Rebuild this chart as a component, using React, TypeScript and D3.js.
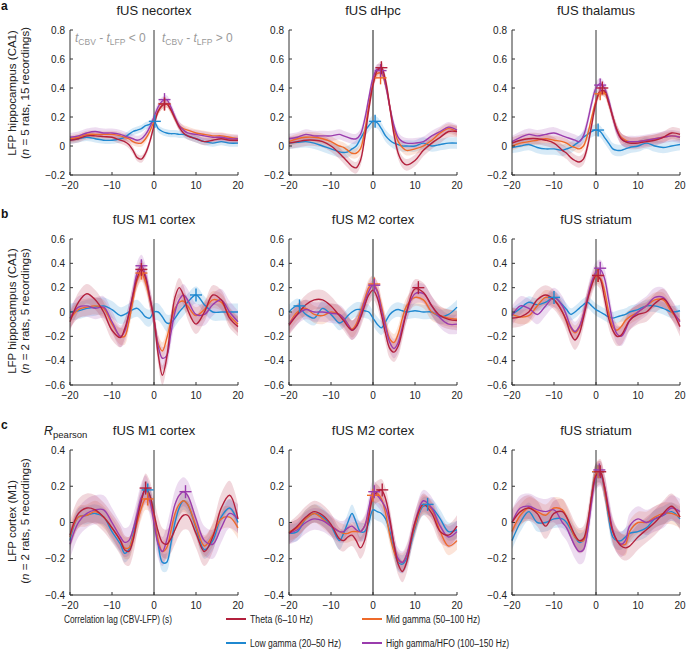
import React from "react"
import * as d3 from "d3"

// lag grid (s) shared by every trace
const lags = [-20, -18, -16, -14, -12, -10, -8, -7, -6, -5, -4, -3, -2, -1, 0, 1, 2, 3, 4, 5, 6, 7, 8, 10, 12, 14, 16, 18, 20]

const bandNames = ["Theta (6–10 Hz)", "Low gamma (20–50 Hz)", "Mid gamma (50–100 Hz)", "High gamma/HFO (100–150 Hz)"]
const bandColors = ["#b3203c", "#1f88d0", "#ee6a2a", "#9a3cad"]

// row a: LFP hippocampus vs fUS regions
const neoTheta = [0.04, 0.05, 0.07, 0.07, 0.065, 0.06, 0.04, 0.03, 0.01, -0.03, -0.08, -0.09, -0.05, 0.03, 0.14, 0.24, 0.28, 0.29, 0.25, 0.19, 0.13, 0.09, 0.07, 0.05, 0.03, 0.04, 0.05, 0.04, 0.04]
const neoLow = [0.04, 0.05, 0.06, 0.05, 0.04, 0.04, 0.05, 0.06, 0.08, 0.1, 0.11, 0.12, 0.14, 0.15, 0.17, 0.12, 0.1, 0.09, 0.085, 0.085, 0.08, 0.08, 0.07, 0.05, 0.03, 0.02, 0.03, 0.02, 0.02]
const neoMid = [0.05, 0.06, 0.08, 0.08, 0.08, 0.08, 0.07, 0.06, 0.05, 0.03, 0.02, 0.02, 0.05, 0.1, 0.17, 0.24, 0.28, 0.29, 0.25, 0.19, 0.14, 0.12, 0.11, 0.09, 0.08, 0.07, 0.07, 0.06, 0.05]
const neoHigh = [0.06, 0.07, 0.09, 0.1, 0.09, 0.09, 0.08, 0.07, 0.06, 0.05, 0.04, 0.05, 0.08, 0.13, 0.2, 0.27, 0.31, 0.32, 0.27, 0.2, 0.14, 0.11, 0.09, 0.08, 0.07, 0.06, 0.06, 0.05, 0.05]

const hpcTheta = [0.02, 0.03, 0.04, 0.04, 0.03, 0.0, -0.05, -0.08, -0.11, -0.14, -0.15, -0.1, 0.05, 0.25, 0.42, 0.52, 0.54, 0.45, 0.27, 0.08, -0.05, -0.11, -0.13, -0.1, -0.03, 0.02, 0.06, 0.1, 0.1]
const hpcLow = [0.02, 0.025, 0.03, 0.02, 0.0, -0.02, -0.04, -0.045, -0.04, -0.02, 0.0, 0.05, 0.1, 0.14, 0.17, 0.16, 0.12, 0.07, 0.04, 0.02, 0.01, 0.0, 0.0, 0.0, 0.02, 0.0, 0.01, 0.02, 0.02]
const hpcMid = [0.03, 0.05, 0.06, 0.06, 0.05, 0.03, 0.0, -0.01, -0.03, -0.05, -0.05, -0.02, 0.1, 0.28, 0.43, 0.5, 0.5, 0.42, 0.27, 0.12, 0.03, -0.01, -0.03, -0.02, 0.0, 0.04, 0.09, 0.12, 0.1]
const hpcHigh = [0.05, 0.06, 0.08, 0.07, 0.07, 0.07, 0.08, 0.07, 0.06, 0.05, 0.05, 0.08, 0.18, 0.33, 0.47, 0.53, 0.52, 0.42, 0.27, 0.14, 0.06, 0.03, 0.02, 0.02, 0.03, 0.07, 0.1, 0.13, 0.11]

const thalTheta = [0.02, 0.04, 0.05, 0.05, 0.04, 0.02, -0.03, -0.05, -0.08, -0.1, -0.11, -0.09, 0.0, 0.15, 0.3, 0.38, 0.38, 0.3, 0.2, 0.11, 0.05, 0.03, 0.02, 0.02, 0.03, 0.04, 0.06, 0.09, 0.08]
const thalLow = [-0.01, 0.0, 0.01, -0.01, -0.02, -0.02, -0.03, -0.02, -0.01, 0.01, 0.03, 0.06, 0.08, 0.1, 0.11, 0.1, 0.06, 0.02, -0.02, -0.03, -0.03, -0.02, -0.01, 0.0, 0.02, 0.0, -0.01, 0.0, 0.01]
const thalMid = [0.0, 0.02, 0.03, 0.04, 0.05, 0.04, 0.03, 0.02, 0.0, -0.01, -0.02, 0.0, 0.08, 0.2, 0.31, 0.37, 0.37, 0.3, 0.2, 0.11, 0.06, 0.04, 0.03, 0.03, 0.04, 0.05, 0.06, 0.07, 0.06]
const thalHigh = [0.03, 0.06, 0.08, 0.07, 0.08, 0.09, 0.07, 0.06, 0.05, 0.04, 0.03, 0.07, 0.17, 0.3, 0.4, 0.43, 0.4, 0.32, 0.2, 0.1, 0.05, 0.03, 0.03, 0.03, 0.04, 0.05, 0.06, 0.07, 0.06]

// row b: LFP hippocampus vs motor / striatum
const m1Theta = [-0.08, 0.08, 0.15, 0.1, 0.0, -0.15, -0.21, -0.14, -0.02, 0.14, 0.28, 0.35, 0.28, 0.12, -0.06, -0.35, -0.52, -0.38, -0.1, 0.12, 0.2, 0.14, 0.02, -0.1, 0.0, 0.14, 0.1, -0.05, -0.12]
const m1Low = [0.0, 0.01, 0.03, 0.04, 0.05, 0.02, -0.03, -0.02, 0.0, 0.02, 0.03, 0.0, -0.04, -0.05, 0.0, 0.0, -0.04, -0.09, -0.09, -0.05, 0.0, 0.04, 0.08, 0.14, 0.06, 0.0, 0.0, 0.0, 0.0]
const m1Mid = [-0.06, 0.02, 0.04, 0.05, 0.03, -0.1, -0.2, -0.2, -0.08, 0.1, 0.26, 0.32, 0.24, 0.1, -0.06, -0.26, -0.32, -0.22, -0.08, 0.03, 0.08, 0.09, 0.05, -0.03, 0.02, 0.1, 0.08, -0.03, -0.1]
const m1High = [-0.05, 0.04, 0.05, 0.03, 0.04, -0.08, -0.2, -0.16, -0.02, 0.15, 0.32, 0.38, 0.3, 0.12, -0.06, -0.28, -0.38, -0.36, -0.18, 0.0, 0.1, 0.14, 0.1, -0.02, -0.02, 0.06, 0.1, 0.0, -0.08]

const m2Theta = [-0.11, -0.02, 0.06, 0.1, 0.1, 0.05, -0.03, -0.07, -0.12, -0.15, -0.12, -0.05, 0.05, 0.14, 0.18, 0.12, -0.02, -0.18, -0.3, -0.33, -0.28, -0.15, 0.0, 0.19, 0.16, 0.05, -0.03, -0.06, -0.07]
const m2Low = [0.0, 0.05, -0.02, -0.05, 0.03, -0.02, -0.09, -0.07, -0.03, 0.0, 0.02, 0.02, 0.01, 0.0, -0.05, -0.1, -0.13, -0.08, -0.02, 0.01, 0.02, 0.01, 0.0, 0.01, 0.0, 0.0, -0.04, -0.02, 0.04]
const m2Mid = [-0.1, 0.0, 0.03, -0.02, -0.03, 0.0, -0.02, -0.05, -0.1, -0.14, -0.1, 0.0, 0.1, 0.2, 0.23, 0.18, 0.05, -0.1, -0.22, -0.25, -0.18, -0.05, 0.05, 0.12, 0.1, 0.0, -0.03, -0.05, -0.06]
const m2High = [-0.1, -0.02, 0.02, 0.0, 0.0, -0.01, -0.02, -0.05, -0.1, -0.15, -0.12, -0.03, 0.08, 0.17, 0.22, 0.17, 0.02, -0.12, -0.25, -0.3, -0.25, -0.12, 0.0, 0.15, 0.15, 0.05, -0.05, -0.1, -0.1]

const strTheta = [-0.05, -0.04, 0.0, 0.1, 0.14, 0.1, 0.0, -0.08, -0.18, -0.23, -0.18, -0.05, 0.1, 0.22, 0.3, 0.27, 0.12, -0.05, -0.15, -0.2, -0.19, -0.13, -0.07, -0.02, 0.0, 0.07, 0.11, 0.02, -0.12]
const strLow = [-0.02, 0.03, 0.08, 0.06, 0.08, 0.12, 0.06, 0.02, -0.02, 0.0, 0.03, 0.06, 0.08, 0.05, 0.02, 0.0, -0.02, -0.04, -0.05, -0.04, -0.03, -0.02, 0.0, 0.02, 0.05, 0.05, 0.03, 0.0, 0.01]
const strMid = [-0.02, -0.04, -0.03, 0.05, 0.12, 0.1, 0.0, -0.07, -0.13, -0.17, -0.13, -0.02, 0.12, 0.23, 0.29, 0.28, 0.18, 0.0, -0.12, -0.15, -0.12, -0.07, -0.04, 0.0, 0.05, 0.1, 0.1, 0.0, -0.07]
const strHigh = [-0.03, 0.05, 0.03, -0.02, 0.05, 0.12, 0.05, -0.03, -0.12, -0.16, -0.12, -0.02, 0.12, 0.25, 0.33, 0.35, 0.28, 0.1, -0.08, -0.18, -0.2, -0.15, -0.07, 0.0, 0.05, 0.12, 0.12, 0.02, -0.08]

// row c: LFP cortex (M1)
const cm1Theta = [-0.07, 0.05, 0.08, 0.07, 0.03, -0.03, -0.1, -0.15, -0.16, -0.1, 0.02, 0.12, 0.19, 0.15, 0.05, -0.05, -0.11, -0.12, -0.09, -0.04, 0.01, 0.04, 0.04, -0.06, -0.16, -0.08, 0.08, 0.15, 0.02]
const cm1Low = [-0.1, 0.03, 0.04, 0.05, 0.03, -0.05, -0.12, -0.17, -0.15, -0.07, 0.03, 0.13, 0.18, 0.15, 0.03, -0.12, -0.22, -0.22, -0.12, 0.0, 0.08, 0.12, 0.1, -0.03, -0.15, -0.1, 0.03, 0.08, 0.0]
const cm1Mid = [-0.08, 0.03, 0.04, 0.06, 0.03, -0.03, -0.1, -0.14, -0.14, -0.08, 0.0, 0.08, 0.13, 0.12, 0.02, -0.1, -0.16, -0.14, -0.05, 0.05, 0.1, 0.12, 0.1, -0.02, -0.13, -0.07, 0.02, 0.03, -0.03]
const cm1High = [-0.12, 0.0, 0.05, 0.07, 0.07, 0.0, -0.08, -0.11, -0.1, -0.04, 0.05, 0.14, 0.18, 0.12, 0.0, -0.12, -0.16, -0.1, 0.0, 0.1, 0.15, 0.17, 0.15, 0.02, -0.1, -0.12, -0.03, 0.05, 0.02]

const cm2Theta = [-0.06, -0.02, 0.03, 0.06, 0.04, -0.01, -0.09, -0.1, -0.08, -0.07, -0.1, -0.14, -0.1, 0.03, 0.14, 0.17, 0.18, 0.13, 0.02, -0.12, -0.23, -0.27, -0.22, 0.0, 0.1, 0.05, -0.05, -0.07, -0.02]
const cm2Low = [-0.06, -0.05, 0.02, 0.05, 0.03, -0.02, -0.1, -0.06, 0.0, 0.05, 0.0, -0.05, -0.05, 0.0, 0.07, 0.06, 0.05, 0.02, -0.05, -0.15, -0.22, -0.23, -0.2, -0.03, 0.09, 0.08, 0.02, -0.05, -0.04]
const cm2Mid = [-0.05, -0.03, 0.02, 0.05, 0.02, -0.02, -0.05, -0.06, -0.06, -0.05, -0.05, -0.05, -0.02, 0.05, 0.15, 0.16, 0.13, 0.05, -0.07, -0.16, -0.21, -0.22, -0.18, -0.02, 0.1, 0.07, -0.05, -0.13, -0.1]
const cm2High = [-0.06, -0.04, 0.0, 0.02, 0.01, -0.02, -0.05, -0.05, -0.03, -0.02, -0.04, -0.05, -0.02, 0.08, 0.17, 0.15, 0.12, 0.08, 0.0, -0.12, -0.2, -0.22, -0.18, 0.0, 0.12, 0.08, -0.02, -0.08, -0.05]

const cstrTheta = [0.0, 0.06, 0.08, 0.05, -0.02, 0.05, 0.06, 0.03, -0.02, -0.07, -0.1, -0.09, 0.0, 0.15, 0.26, 0.28, 0.2, 0.06, -0.05, -0.1, -0.13, -0.14, -0.13, -0.08, -0.04, 0.0, 0.05, 0.09, 0.03]
const cstrLow = [-0.1, 0.0, 0.06, 0.0, 0.0, 0.02, 0.02, 0.0, -0.04, -0.08, -0.11, -0.1, -0.02, 0.15, 0.27, 0.27, 0.18, 0.03, -0.08, -0.1, -0.1, -0.08, -0.06, -0.05, -0.03, 0.02, 0.04, 0.06, 0.02]
const cstrMid = [-0.05, 0.04, 0.08, 0.06, 0.04, 0.08, 0.07, 0.03, -0.03, -0.08, -0.1, -0.1, -0.02, 0.15, 0.27, 0.28, 0.18, 0.05, -0.05, -0.1, -0.12, -0.12, -0.05, 0.0, 0.0, 0.03, 0.05, 0.05, 0.03]
const cstrHigh = [0.0, 0.08, 0.09, 0.07, 0.06, 0.07, 0.0, -0.03, -0.08, -0.13, -0.16, -0.15, -0.05, 0.12, 0.25, 0.27, 0.2, 0.08, -0.04, -0.1, -0.12, -0.1, -0.02, 0.02, 0.0, 0.02, 0.04, 0.08, 0.06]

// shaded error half-widths [theta, low, mid, high]
const neoBand = [0.025, 0.025, 0.025, 0.03]
const hpcBand = [0.04, 0.04, 0.035, 0.035]
const thalBand = [0.04, 0.04, 0.03, 0.04]
const m1Band = [0.08, 0.07, 0.07, 0.09]
const m2Band = [0.08, 0.06, 0.07, 0.08]
const strBand = [0.08, 0.05, 0.06, 0.08]
const cm1Band = [0.08, 0.05, 0.06, 0.08]
const cm2Band = [0.06, 0.05, 0.05, 0.06]
const cstrBand = [0.07, 0.05, 0.06, 0.07]

// peak markers (+): lag and r [theta, low, mid, high]
const neoPeakLag = [2.5, 0.2, 2.5, 2.5], neoPeakR = [0.29, 0.17, 0.29, 0.32]
const hpcPeakLag = [2, 0.5, 1.8, 1.8], hpcPeakR = [0.54, 0.17, 0.47, 0.52]
const thalPeakLag = [1.5, 0.5, 1, 1], thalPeakR = [0.4, 0.11, 0.36, 0.42]
const m1PeakLag = [-3, 10, -3, -3], m1PeakR = [0.35, 0.14, 0.32, 0.38]
const m2PeakLag = [10.8, -17.5, 0.3, 0.3], m2PeakR = [0.2, 0.05, 0.23, 0.22]
const strPeakLag = [0.5, -10, 0.5, 1], strPeakR = [0.3, 0.12, 0.3, 0.36]
const cm1PeakLag = [-2, -1.5, -1.5, 7.5], cm1PeakR = [0.19, 0.18, 0.13, 0.17]
const cm2PeakLag = [2.2, 13, 0, 0.3], cm2PeakR = [0.18, 0.1, 0.15, 0.17]
const cstrPeakLag = [1, 0.5, 0.5, 0.8], cstrPeakR = [0.28, 0.28, 0.28, 0.29]

const rowDomains = [[-0.2, 0.8], [-0.6, 0.6], [-0.4, 0.4]]
const rowTicks = [[-0.2, 0, 0.2, 0.4, 0.6, 0.8], [-0.6, -0.4, -0.2, 0, 0.2, 0.4, 0.6], [-0.4, -0.2, 0, 0.2, 0.4]]
const lagTicks = [-20, -10, 0, 10, 20]

const colX = [[70, 238], [289, 457], [512, 680]]
const rowY = [[30, 175], [239, 385], [450, 595]]

const panels = [
  { row: 0, col: 0, title: "fUS necortex", series: [neoTheta, neoLow, neoMid, neoHigh], band: neoBand, pLag: neoPeakLag, pR: neoPeakR },
  { row: 0, col: 1, title: "fUS dHpc", series: [hpcTheta, hpcLow, hpcMid, hpcHigh], band: hpcBand, pLag: hpcPeakLag, pR: hpcPeakR },
  { row: 0, col: 2, title: "fUS thalamus", series: [thalTheta, thalLow, thalMid, thalHigh], band: thalBand, pLag: thalPeakLag, pR: thalPeakR },
  { row: 1, col: 0, title: "fUS M1 cortex", series: [m1Theta, m1Low, m1Mid, m1High], band: m1Band, pLag: m1PeakLag, pR: m1PeakR },
  { row: 1, col: 1, title: "fUS M2 cortex", series: [m2Theta, m2Low, m2Mid, m2High], band: m2Band, pLag: m2PeakLag, pR: m2PeakR },
  { row: 1, col: 2, title: "fUS striatum", series: [strTheta, strLow, strMid, strHigh], band: strBand, pLag: strPeakLag, pR: strPeakR },
  { row: 2, col: 0, title: "fUS M1 cortex", series: [cm1Theta, cm1Low, cm1Mid, cm1High], band: cm1Band, pLag: cm1PeakLag, pR: cm1PeakR },
  { row: 2, col: 1, title: "fUS M2 cortex", series: [cm2Theta, cm2Low, cm2Mid, cm2High], band: cm2Band, pLag: cm2PeakLag, pR: cm2PeakR },
  { row: 2, col: 2, title: "fUS striatum", series: [cstrTheta, cstrLow, cstrMid, cstrHigh], band: cstrBand, pLag: cstrPeakLag, pR: cstrPeakR },
]

const rowLabels = [
  ["LFP hippocampus (CA1)", "5 rats, 15 recordings)"],
  ["LFP hippocampus (CA1)", "2 rats, 5 recordings)"],
  ["LFP cortex (M1)", "2 rats, 5 recordings)"],
]
const rowLabelCenter = [93, 311, 521]
const rowLetters = ["a", "b", "c"]

// draw order: low, mid, high, theta
const drawOrder = [1, 2, 3, 0]
const font = "'Liberation Sans', Arial, Helvetica, sans-serif"
const fmtY = (d: number) => (d === 0 ? "0" : d3.format(".1f")(d))
const fmtX = d3.format("d")

const Panel = ({ p }: { p: any }) => {
  const [x0, x1] = colX[p.col]
  const [y0, y1] = rowY[p.row]
  const x = d3.scaleLinear().domain([-20, 20]).range([x0, x1])
  const y = d3.scaleLinear().domain(rowDomains[p.row]).range([y1, y0])
  const curve = d3.curveCatmullRom.alpha(0.5)
  const line = d3.line<number>().x((_, i) => x(lags[i])).y(d => y(d)).curve(curve)
  const area = (w: number) =>
    d3.area<number>().x((_, i) => x(lags[i])).y0(d => y(d - w)).y1(d => y(d + w)).curve(curve)
  const mid = p.col === 1
  return (
    <g>
      <text x={(x0 + x1) / 2} y={y0 - 15.5} textAnchor="middle" fontSize={13} fill="#222">{p.title}</text>
      {drawOrder.map(k => (
        <path key={"b" + k} d={area(p.band[k])(p.series[k]) || ""} fill={bandColors[k]} fillOpacity={0.18} stroke="none" />
      ))}
      <line x1={x(0)} x2={x(0)} y1={y0} y2={y1} stroke={mid ? "#8a8a8a" : "#333"} strokeWidth={mid ? 2 : 1} />
      {drawOrder.map(k => (
        <path key={"l" + k} d={line(p.series[k]) || ""} fill="none" stroke={bandColors[k]} strokeWidth={1.4} />
      ))}
      {drawOrder.map(k => {
        const cx = x(p.pLag[k]), cy = y(p.pR[k])
        return (
          <g key={"m" + k} stroke={bandColors[k]} strokeWidth={1.4}>
            <line x1={cx - 6} x2={cx + 6} y1={cy} y2={cy} />
            <line x1={cx} x2={cx} y1={cy - 6.5} y2={cy + 6.5} />
          </g>
        )
      })}
      {/* axes */}
      <line x1={x0} x2={x0} y1={y0} y2={y1} stroke="#333" strokeWidth={1} />
      <line x1={x0} x2={x1} y1={y1} y2={y1} stroke="#333" strokeWidth={1} />
      {rowTicks[p.row].map(t => (
        <g key={"yt" + t}>
          <line x1={x0} x2={x0 + 3} y1={y(t)} y2={y(t)} stroke="#333" />
          <text x={x0 - 5} y={y(t) + 3.5} textAnchor="end" fontSize={10} fill="#222">{fmtY(t)}</text>
        </g>
      ))}
      {lagTicks.map(t => (
        <g key={"xt" + t}>
          <line x1={x(t)} x2={x(t)} y1={y1} y2={y1 - 3} stroke="#333" />
          <text x={x(t)} y={y1 + 14} textAnchor="middle" fontSize={10} fill="#222">{fmtX(t)}</text>
        </g>
      ))}
    </g>
  )
}

const App = () => {
  return (
    <svg width={686} height={652} style={{ position: "absolute", left: 0, top: 0, background: "#fff" }} fontFamily={font}>
      <rect width={686} height={652} fill="#fff" />
      {panels.map((p, i) => <Panel key={i} p={p} />)}

      {rowLetters.map((l, r) => (
        <text key={l} x={1} y={r === 0 ? 10 : rowY[r][0] - 21.5} fontSize={12} fontWeight="bold" fill="#111">{l}</text>
      ))}

      {rowLabels.map((lab, r) => (
        <g key={r} fontSize={11.5} fill="#222" textAnchor="middle">
          <text transform={`translate(16,${rowLabelCenter[r]}) rotate(-90)`}>{lab[0]}</text>
          <text transform={`translate(29,${rowLabelCenter[r]}) rotate(-90)`}>
            (<tspan fontStyle="italic">n</tspan> = {lab[1]}
          </text>
        </g>
      ))}

      {/* sign annotations */}
      <g fill="#9a9a9a" fontSize={12}>
        <text x={75} y={42}>
          <tspan fontStyle="italic">t</tspan>
          <tspan fontSize={8.5} dy={3}>CBV</tspan>
          <tspan dy={-3}> - </tspan>
          <tspan fontStyle="italic">t</tspan>
          <tspan fontSize={8.5} dy={3}>LFP</tspan>
          <tspan dy={-3}> &lt; 0</tspan>
        </text>
        <text x={162} y={42}>
          <tspan fontStyle="italic">t</tspan>
          <tspan fontSize={8.5} dy={3}>CBV</tspan>
          <tspan dy={-3}> - </tspan>
          <tspan fontStyle="italic">t</tspan>
          <tspan fontSize={8.5} dy={3}>LFP</tspan>
          <tspan dy={-3}> &gt; 0</tspan>
        </text>
      </g>

      <text x={44} y={435} fontSize={12.5} fill="#222">
        <tspan fontStyle="italic">R</tspan>
        <tspan fontSize={9.5} dy={3}>pearson</tspan>
      </text>

      <text x={64} y={623} fontSize={10} fill="#222" textLength={108} lengthAdjust="spacingAndGlyphs">
        Correlation lag (CBV-LFP) (s)
      </text>

      {/* legend */}
      {[
        { k: 0, lx: 226, ly: 619, tl: 63 },
        { k: 2, lx: 362, ly: 619, tl: 94 },
        { k: 1, lx: 226, ly: 643, tl: 91 },
        { k: 3, lx: 362, ly: 643, tl: 123 },
      ].map(d => (
        <g key={d.k}>
          <line x1={d.lx} x2={d.lx + 20} y1={d.ly} y2={d.ly} stroke={bandColors[d.k]} strokeWidth={2} />
          <text x={d.lx + 24} y={d.ly + 3.5} fontSize={10} fill="#222" textLength={d.tl} lengthAdjust="spacingAndGlyphs">
            {bandNames[d.k]}
          </text>
        </g>
      ))}
    </svg>
  )
}

export default App
